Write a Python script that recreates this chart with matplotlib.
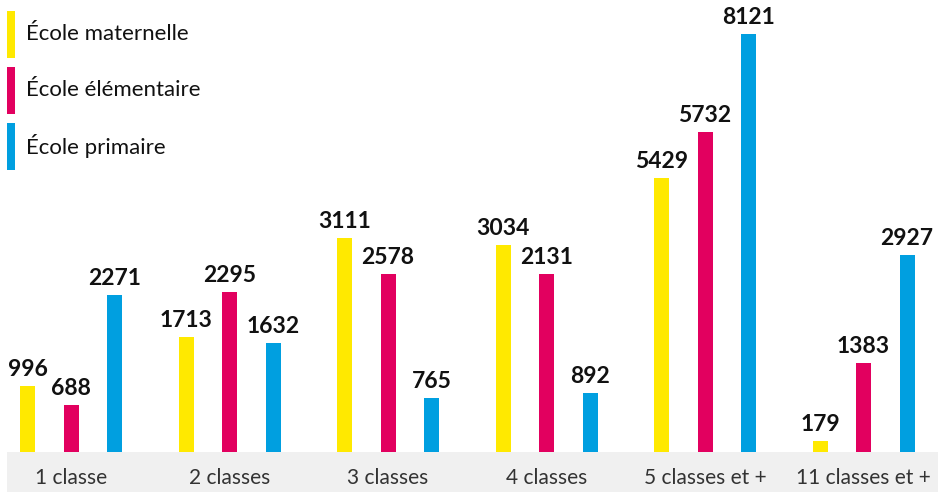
import matplotlib
matplotlib.use("Agg")
import matplotlib.pyplot as plt
from matplotlib.patches import Rectangle
import numpy as np

plt.rcParams['font.family'] = ['Lato', 'DejaVu Sans']

categories = ["1 classe", "2 classes", "3 classes", "4 classes", "5 classes et +", "11 classes et +"]
series = ["École maternelle", "École élémentaire", "École primaire"]
colors = ["#FFE900", "#E2005F", "#009FE0"]

# values shown in the labels
maternelle = [996, 1713, 3111, 3034, 5429, 179]
elementaire = [688, 2295, 2578, 2131, 5732, 1383]
primaire = [2271, 1632, 765, 892, 8121, 2927]

# drawn bar heights as they appear in the reference (not proportional to the values)
h_maternelle = [66, 115, 214, 207, 274, 11]
h_elementaire = [47, 160, 178, 178, 320, 89]
h_primaire = [157, 109, 54, 59, 418, 197]

values = [maternelle, elementaire, primaire]
heights = [h_maternelle, h_elementaire, h_primaire]

W, H = 938, 492
fig = plt.figure(figsize=(W / 100, H / 100), dpi=100)
fig.patch.set_facecolor("white")

base_px = 452
band = Rectangle((7 / W, 0), 1 - 7 / W, (H - base_px) / H, transform=fig.transFigure,
                 facecolor="#F0F0F0", edgecolor="none", zorder=0)
fig.patches.append(band)

ax = fig.add_axes([0, (H - base_px) / H, 1, base_px / H])
ax.set_facecolor("none")
spacing = 158.5
c0 = 71
ax.set_xlim((0 - c0) / spacing, (W - c0) / spacing)
ax.set_ylim(0, base_px)
ax.axis("off")

x = np.arange(len(categories))
offset = 43.5 / spacing
bw = 15 / spacing
for k in range(3):
    xs = x + (k - 1) * offset
    ax.bar(xs, heights[k], width=bw, color=colors[k], zorder=2)
    for xi, hi, vi in zip(xs, heights[k], values[k]):
        ax.text(xi, hi + 6, str(vi), ha="center", va="bottom", fontsize=16.5,
                fontweight="bold", color="#111111")

for i, cat in enumerate(categories):
    xf = (c0 + i * spacing) / W
    fig.text(xf, (H - 478) / H, cat, ha="center", va="center", fontsize=15,
             fontweight="normal", color="#333333")

# legend
for k, name in enumerate(series):
    top = 11 + 56 * k
    fig.patches.append(Rectangle((7 / W, (H - top - 47) / H), 8 / W, 47 / H,
                                 transform=fig.transFigure, facecolor=colors[k],
                                 edgecolor="none"))
    fig.text(26 / W, (H - (34 + 56 * k)) / H, name, ha="left", va="center",
             fontsize=16, fontweight="normal", color="#111111")

fig.savefig("out.png", dpi=100)
